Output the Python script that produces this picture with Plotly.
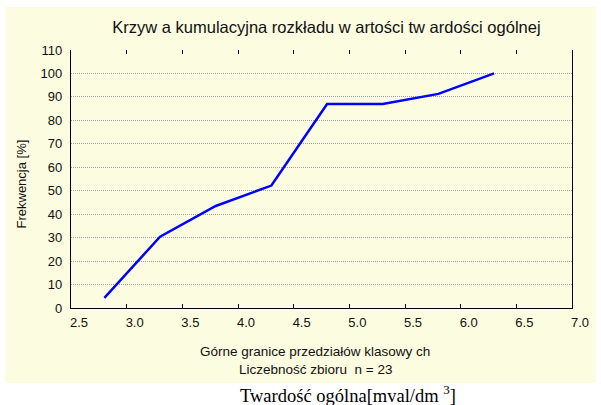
import plotly.graph_objects as go

# Data
upper_bounds = [2.8, 3.3, 3.8, 4.3, 4.8, 5.3, 5.8, 6.3]
cum_freq = [4.35, 30.4, 43.5, 52.2, 87.0, 87.0, 91.3, 100.0]
x_ticks = [2.5, 3.0, 3.5, 4.0, 4.5, 5.0, 5.5, 6.0, 6.5, 7.0]
y_ticks = list(range(0, 111, 10))

W, H = 601, 405
L, R, T, B = 71, 24, 50, 97
pw, ph = W - L - R, H - T - B

def px(x):
    return (x - L) / pw

def py(y):
    return (H - B - y) / ph

cream = "#FCFCE0"

fig = go.Figure()
fig.add_trace(go.Scatter(x=upper_bounds, y=cum_freq, mode="lines",
                         line=dict(color="#0000FF", width=2.5), showlegend=False,
                         hoverinfo="skip"))
fig.add_trace(go.Scatter(x=upper_bounds, y=cum_freq, mode="lines", xaxis="x2",
                         line=dict(color="rgba(0,0,0,0)", width=0), showlegend=False,
                         hoverinfo="skip"))

font = "Liberation Sans, Arial, sans-serif"
fig.update_layout(
    width=W, height=H,
    margin=dict(l=L, r=R, t=T, b=B, pad=0),
    paper_bgcolor="white",
    plot_bgcolor="white",
    font=dict(family=font, size=13, color="#111"),
    xaxis=dict(range=[2.5, 7.0], tickvals=x_ticks, ticktext=[f"{v:.1f}" for v in x_ticks],
               showgrid=False, zeroline=False, showline=True, linecolor="black", linewidth=1.2,
               ticks="inside", ticklen=4, tickcolor="black", ticklabelshift=8,
               ticklabelstandoff=2, tickfont=dict(size=13)),
    xaxis2=dict(range=[2.5, 7.0], overlaying="x", side="top", tickvals=x_ticks,
                showticklabels=False, showgrid=False, zeroline=False, showline=False,
                ticks="inside", ticklen=4, tickcolor="black"),
    yaxis=dict(range=[0, 110], tickvals=y_ticks, showgrid=True, gridcolor="#a0a0a0",
               griddash="1px,1px", gridwidth=1, zeroline=False, showline=True,
               linecolor="black", linewidth=1.2, mirror=True, ticks="",
               ticklabelstandoff=5, tickfont=dict(size=13)),
    title=dict(text="Krzyw a kumulacyjna rozkładu w artości tw ardości ogólnej",
               x=px(329), xanchor="center", xref="paper", y=1 - 27 / H, yanchor="middle",
               font=dict(size=16.5, family=font, color="#111")),
    shapes=[dict(type="rect", xref="paper", yref="paper", layer="below",
                 x0=px(5), x1=px(601), y0=py(383), y1=py(7),
                 fillcolor=cream, line=dict(width=0))],
    annotations=[
        dict(text="Górne granice przedziałów klasowy ch", xref="paper", yref="paper",
             x=px(317.5), y=py(351), xanchor="center", yanchor="middle", showarrow=False,
             font=dict(size=13.5, family=font)),
        dict(text="Liczebność zbioru  n = 23", xref="paper", yref="paper",
             x=px(317.5), y=py(369), xanchor="center", yanchor="middle", showarrow=False,
             font=dict(size=13.5, family=font)),
        dict(text="Frekwencja [%]", xref="paper", yref="paper", textangle=-90,
             x=px(21), y=py(184), xanchor="center", yanchor="middle", showarrow=False,
             font=dict(size=13, family=font)),
        dict(text="Twardość ogólna[mval/dm <sup>3</sup>]", xref="paper", yref="paper",
             x=px(351), y=py(408), xanchor="center", yanchor="bottom", showarrow=False,
             font=dict(size=18.5, family="Liberation Serif, Times New Roman, serif", color="#000")),
    ],
)

fig.write_html("out.html", config={"displayModeBar": False},
               post_script="document.body.style.margin='0';document.body.style.overflow='hidden';")
